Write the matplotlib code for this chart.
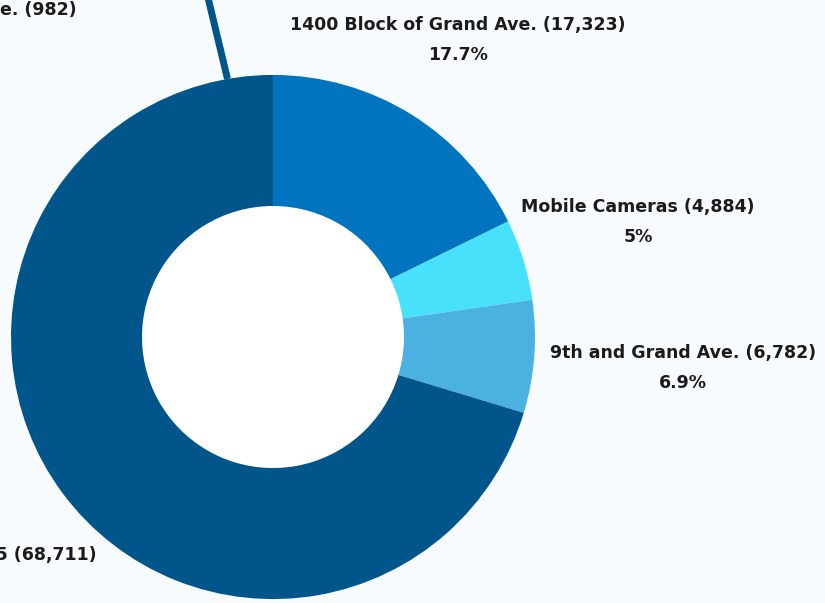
import numpy as np
import matplotlib
matplotlib.use("Agg")
import matplotlib.pyplot as plt
from matplotlib.patches import Circle

# camera locations and ticket counts
locations = ["1400 Block of Grand Ave.", "Mobile Cameras", "9th and Grand Ave.", "I-235 at Mile Marker 5"]
counts = [17323, 4884, 6782, 68711]
pct_labels = ["17.7%", "5%", "6.9%", "70.3%"]
colors = ["#0074BF", "#48E1FB", "#4BB1E1", "#00558B"]

# small location shown only as a callout
small_name = "MLK Jr. Pkwy and Grand Ave."
small_count = 982
small_pct = "1%"

BG = "#F7FBFE"
TXT = "#1B1B1B"

plt.rcParams['font.family'] = ['DejaVu Sans']

fig = plt.figure(figsize=(8.25, 6.03), dpi=100, facecolor=BG)
ax = fig.add_axes([0, 0, 1, 1])
ax.set_facecolor(BG)

wedges, _ = ax.pie(counts, colors=colors, startangle=90, counterclock=False,
                   radius=1.0, wedgeprops=dict(width=0.5, linewidth=0))
ax.add_patch(Circle((0, 0), 0.5, facecolor="white", edgecolor="none", zorder=0.5))

# label positions (x, y, ha) in data units, radius 1 = outer ring
label_pos = [(0.706, 1.134, "center"), (1.393, 0.439, "center"),
             (1.565, -0.118, "center"), (-0.672, -0.889, "right")]
for name, c, p, (x, y, ha) in zip(locations, counts, pct_labels, label_pos):
    ax.text(x, y, f"{name} ({c:,})\n{p}", ha=ha, va="center", multialignment="center",
            fontsize=12.5, fontweight="bold", color=TXT, linespacing=1.85)

# callout for the tiny slice
a0, a1 = np.radians(-10), np.radians(-11)
ax.plot([np.sin(a0), 1.4 * np.sin(a1)], [np.cos(a0), 1.4 * np.cos(a1)],
        color=colors[3], lw=5, solid_capstyle="butt", zorder=3)
ax.text(-0.748, 1.191, f"{small_name} ({small_count:,})\n{small_pct}", ha="right", va="center",
        multialignment="center", fontsize=12.5, fontweight="bold", color=TXT, linespacing=1.85)

ax.set_xlim(-1.042, 2.107)
ax.set_ylim(-1.015, 1.286)
ax.set_aspect("auto")
ax.axis("off")

fig.savefig("out.png", dpi=100, facecolor=BG)
